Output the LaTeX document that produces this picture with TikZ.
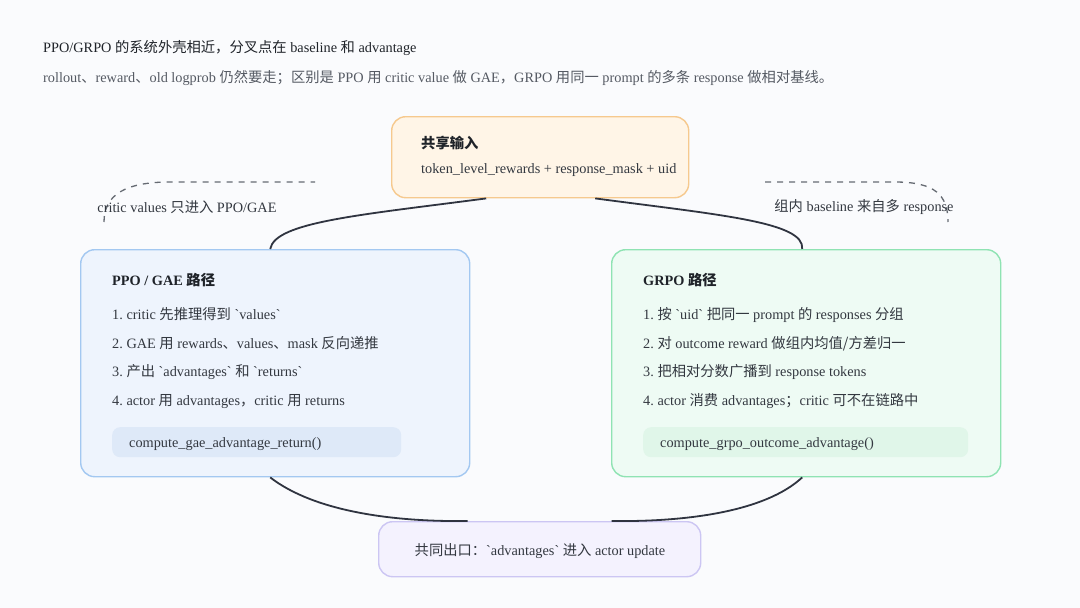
\documentclass[tikz,border=0pt]{standalone}
\usepackage{fontspec}
\setmainfont{Liberation Serif}
\newfontfamily\cjk{Noto Sans CJK SC}
\newcommand\zh[1]{{\cjk #1}}
\newcommand\bq{\textasciigrave}
\definecolor{bgc}{HTML}{FAFBFD}
\definecolor{titlec}{HTML}{1F2329}
\definecolor{subc}{HTML}{555A63}
\definecolor{txtc}{HTML}{333840}
\definecolor{linec}{HTML}{2F3440}
\definecolor{dashc}{HTML}{666B73}
\definecolor{topfill}{HTML}{FFF5E7}
\definecolor{topdraw}{HTML}{F6C98E}
\definecolor{lfill}{HTML}{EEF4FD}
\definecolor{ldraw}{HTML}{A3C8F1}
\definecolor{lcode}{HTML}{DEE9F8}
\definecolor{rfill}{HTML}{EEFBF4}
\definecolor{rdraw}{HTML}{8FE3B3}
\definecolor{rcode}{HTML}{E0F6E9}
\definecolor{bfill}{HTML}{F4F2FE}
\definecolor{bdraw}{HTML}{CCC6F3}
\tikzset{
  panel/.style={rounded corners=14pt, line width=1.4pt, inner sep=0pt, anchor=north west},
  codebox/.style={rounded corners=8pt, inner sep=0pt, anchor=north west},
  txt/.style={anchor=base west, inner sep=0pt, font=\fontsize{14.3}{16}\selectfont, text=txtc},
  ttl/.style={anchor=base west, inner sep=0pt, font=\fontsize{14.3}{16}\selectfont\bfseries, text=titlec},
  conn/.style={line width=1.8pt, draw=linec},
  dconn/.style={line width=1.3pt, draw=dashc, dash pattern=on 6pt off 6pt},
  lbl/.style={inner sep=0pt, font=\fontsize{14.3}{16}\selectfont, text=txtc}
}
\frenchspacing
\begin{document}
\begin{tikzpicture}[x=1pt,y=-1pt]
\fill[bgc] (0,0) rectangle (1080,608);
\useasboundingbox (0,0) rectangle (1080,608);

% header
\node[anchor=base west, inner sep=0pt, font=\fontsize{14.3}{16}\selectfont, text=titlec] (title) at (43,52)
  {PPO/GRPO \zh{的系统外壳相近，分叉点在} baseline \zh{和} advantage};
\node[anchor=base west, inner sep=0pt, font=\fontsize{14.3}{16}\selectfont, text=subc] (sub) at (43,82)
  {rollout\zh{、}reward\zh{、}old logprob \zh{仍然要走；区别是} PPO \zh{用} critic value \zh{做} GAE\zh{，}GRPO \zh{用同一} prompt \zh{的多条} response \zh{做相对基线。}};

% top box
\node[panel, fill=topfill, draw=topdraw, minimum width=297pt, minimum height=81pt] (top) at (391,116) {};
\node[ttl] (toptitle) at (421,148) {\zh{共享输入}};
\node[txt] (toptext) at (421,173) {token\_level\_rewards + response\_mask + uid};

% left box
\node[panel, fill=lfill, draw=ldraw, minimum width=389pt, minimum height=227pt] (left) at (80,249) {};
\node[ttl] (ltitle) at (112,285) {PPO / GAE \zh{路径}};
\node[txt] (l1) at (112,319) {1. critic \zh{先推理得到} \bq values\bq};
\node[txt] (l2) at (112,348) {2. GAE \zh{用} rewards\zh{、}values\zh{、}mask \zh{反向递推}};
\node[txt] (l3) at (112,376) {3. \zh{产出} \bq advantages\bq{} \zh{和} \bq returns\bq};
\node[txt] (l4) at (112,405) {4. actor \zh{用} advantages\zh{，}critic \zh{用} returns};
\node[codebox, fill=lcode, minimum width=289pt, minimum height=30pt] (lcodebox) at (112,427) {};
\node[txt] (lcode) at (129,447) {compute\_gae\_advantage\_return()};

% right box
\node[panel, fill=rfill, draw=rdraw, minimum width=389pt, minimum height=227pt] (right) at (611,249) {};
\node[ttl] (rtitle) at (643,285) {GRPO \zh{路径}};
\node[txt] (r1) at (643,319) {1. \zh{按} \bq uid\bq{} \zh{把同一} prompt \zh{的} responses \zh{分组}};
\node[txt] (r2) at (643,348) {2. \zh{对} outcome reward \zh{做组内均值/方差归一}};
\node[txt] (r3) at (643,376) {3. \zh{把相对分数广播到} response tokens};
\node[txt] (r4) at (643,405) {4. actor \zh{消费} advantages\zh{；}critic \zh{可不在链路中}};
\node[codebox, fill=rcode, minimum width=325pt, minimum height=30pt] (rcodebox) at (643,427) {};
\node[txt] (rcode) at (660,447) {compute\_grpo\_outcome\_advantage()};

% bottom box
\node[panel, fill=bfill, draw=bdraw, minimum width=322pt, minimum height=55pt] (bot) at (378,521) {};
\node[lbl, anchor=base] (bottext) at (540,555) {\zh{共同出口：}\bq advantages\bq{} \zh{进入} actor update};

% connectors
\draw[conn] ([xshift=-54pt]top.south) .. controls (360,215) and (275,222) .. ([xshift=-5pt]left.north);
\draw[conn] ([xshift=55pt]top.south) .. controls (720,215) and (805,222) .. ([xshift=-4pt]right.north);
\draw[conn] ([xshift=-5pt]left.south) .. controls (315,512) and (395,522) .. ([xshift=-72pt]bot.north);
\draw[conn] ([xshift=72pt]bot.north) .. controls (685,522) and (765,512) .. ([xshift=-4pt]right.south);

% dashed hints
\coordinate (da) at (104,222);
\coordinate (db) at (315,182);
\coordinate (dc) at (765,182);
\coordinate (dd) at (948,222);
\draw[dconn] (da) .. controls (104,195) and (125,182) .. (170,182) -- (db);
\draw[dconn] (dc) -- (895,182) .. controls (935,182) and (948,195) .. (dd);
\node[lbl] (dl) at (187,207) {critic values \zh{只进入} PPO/GAE};
\node[lbl] (dr) at (864,207) {\zh{组内} baseline \zh{来自多} response};
\end{tikzpicture}
\end{document}
